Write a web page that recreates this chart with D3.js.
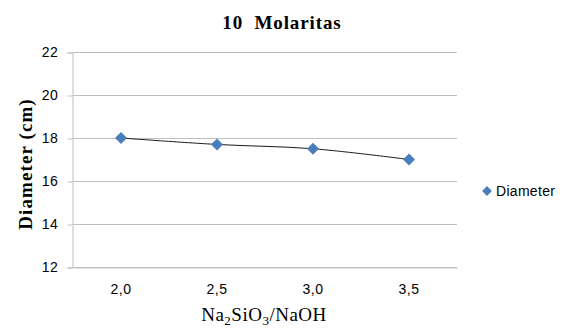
<!DOCTYPE html>
<html>
<head>
<meta charset="utf-8">
<script src="https://cdn.jsdelivr.net/npm/d3@7"></script>
<style>
  body { margin: 0; background: #fff; }
</style>
</head>
<body>
<div id="chart"></div>
<script>
// chart data
var categories = ["2,0", "2,5", "3,0", "3,5"];
var diameter = [18.0, 17.7, 17.5, 17.0];
var yTicks = [12, 14, 16, 18, 20, 22];
var seriesName = "Diameter";

var width = 571, height = 329;
var margin = { top: 52, right: 114, bottom: 62, left: 73 };

var svg = d3.select('#chart')
      .append('svg')
      .attr('width', width)
      .attr('height', height);

//scales
var x = d3.scaleBand().domain(categories).range([margin.left, width - margin.right]);
var y = d3.scaleLinear().domain([12, 22]).range([height - margin.bottom, margin.top]);

//grid lines
svg.append('g')
      .selectAll('line')
      .data(yTicks)
      .enter().append('line')
      .attr('x1', margin.left)
      .attr('x2', width - margin.right)
      .attr('y1', function (d) { return Math.round(y(d)) + 0.5; })
      .attr('y2', function (d) { return Math.round(y(d)) + 0.5; })
      .style('stroke', '#bfbfbf')
      .style('stroke-width', 1);

//y axis
var yAxis = svg.append('g')
      .attr('transform', 'translate(' + (margin.left - 0.5) + ',0.5)')
      .call(d3.axisLeft(y).tickValues(yTicks).tickSize(5).tickPadding(9));
yAxis.select('.domain').style('stroke', '#bfbfbf');
yAxis.selectAll('line').style('stroke', '#bfbfbf');
yAxis.selectAll('text')
      .style('font-family', 'Liberation Sans, Arial, sans-serif')
      .style('font-size', '14px')
      .style('letter-spacing', '0.6px')
      .style('fill', '#000');

//x axis
var xAxis = svg.append('g')
      .attr('transform', 'translate(0,' + (height - margin.bottom + 0.5) + ')')
      .call(d3.axisBottom(x).tickSize(0).tickPadding(17));
xAxis.select('.domain').style('stroke', '#bfbfbf');
xAxis.selectAll('text')
      .style('font-family', 'Liberation Sans, Arial, sans-serif')
      .style('font-size', '14px')
      .style('letter-spacing', '0.6px')
      .style('fill', '#000');

//smooth line
var line = d3.line()
      .x(function (d, i) { return x(categories[i]) + x.bandwidth() / 2; })
      .y(function (d) { return y(d); })
      .curve(d3.curveCatmullRom.alpha(0.5));
svg.append('path')
      .datum(diameter)
      .attr('d', line)
      .style('fill', 'none')
      .style('stroke', '#1a1a1a')
      .style('stroke-width', 1);

//markers
var diamond = d3.symbol().type(d3.symbolSquare).size(72);
svg.append('g')
      .selectAll('path')
      .data(diameter)
      .enter().append('path')
      .attr('d', diamond)
      .attr('transform', function (d, i) {
            return 'translate(' + (x(categories[i]) + x.bandwidth() / 2) + ',' + y(d) + ') rotate(45)';
      })
      .style('fill', '#4a7ebb');

//title
svg.append('text')
      .attr('x', 282)
      .attr('y', 29)
      .attr('text-anchor', 'middle')
      .style('font-family', 'Liberation Serif, Times New Roman, serif')
      .style('font-weight', 'bold')
      .style('font-size', '19px')
      .style('letter-spacing', '0.9px')
      .style('white-space', 'pre')
      .text('10  Molaritas');

//y title
svg.append('text')
      .attr('transform', 'translate(32,164) rotate(-90)')
      .attr('text-anchor', 'middle')
      .style('font-family', 'Liberation Serif, Times New Roman, serif')
      .style('font-weight', 'bold')
      .style('font-size', '19px')
      .style('letter-spacing', '1.1px')
      .text('Diameter (cm)');

//x title
var xt = svg.append('text')
      .attr('x', 264)
      .attr('y', 321)
      .attr('text-anchor', 'middle')
      .style('font-family', 'Liberation Serif, Times New Roman, serif')
      .style('font-size', '19px')
      .style('letter-spacing', '0.5px');
xt.append('tspan').text('Na');
xt.append('tspan').attr('dy', 4).style('font-size', '13px').text('2');
xt.append('tspan').attr('dy', -4).text('SiO');
xt.append('tspan').attr('dy', 4).style('font-size', '13px').text('3');
xt.append('tspan').attr('dy', -4).text('/NaOH');

//legend
var lg = svg.append('g').attr('transform', 'translate(487,191)');
lg.append('path')
      .attr('d', d3.symbol().type(d3.symbolSquare).size(48))
      .attr('transform', 'rotate(45)')
      .style('fill', '#4a7ebb');
lg.append('text')
      .attr('x', 9)
      .attr('y', 5)
      .style('font-family', 'Liberation Sans, Arial, sans-serif')
      .style('font-size', '14px')
      .style('letter-spacing', '0.3px')
      .text(seriesName);
</script>
</body>
</html>
